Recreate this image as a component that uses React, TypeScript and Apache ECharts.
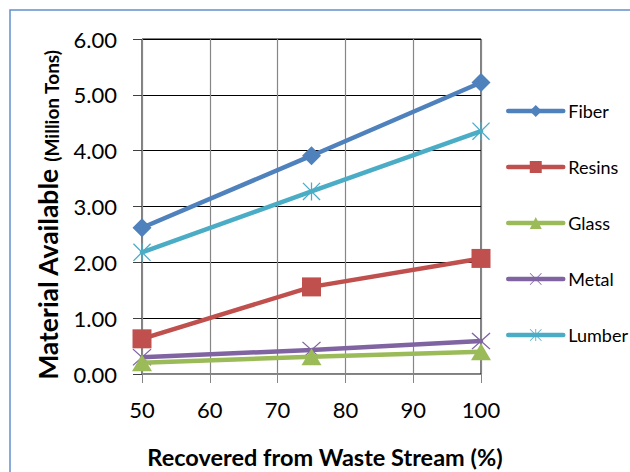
import React, { useEffect, useRef } from "react";
import * as echarts from "echarts";

const recovered = [50, 75, 100];
const seriesNames = ["Fiber", "Resins", "Glass", "Metal", "Lumber"];
const fiber = [2.62, 3.91, 5.22];
const resins = [0.63, 1.56, 2.07];
const glass = [0.2, 0.31, 0.4];
const metal = [0.3, 0.43, 0.59];
const lumber = [2.18, 3.27, 4.35];
const seriesValues = [fiber, resins, glass, metal, lumber];
const seriesColors = ["#4F81BD", "#C0504D", "#9BBB59", "#8064A2", "#4BACC6"];
const yTitleMain = "Material Available ";
const yTitleUnit = "(Million Tons)";
const xTitle = "Recovered from Waste Stream (%)";

const X_PATH = "path://M0,1 L1,0 L20,19 L19,20 Z M19,0 L20,1 L1,20 L0,19 Z";
const STAR_PATH =
  "path://M0,1 L1,0 L20,19 L19,20 Z M19,0 L20,1 L1,20 L0,19 Z M9.3,0 L10.7,0 L10.7,20 L9.3,20 Z";
const symbols = ["diamond", "rect", "triangle", X_PATH, STAR_PATH];
const symbolSizes: any[] = [[19, 19], [19, 19], [20, 17], [19, 17], [18, 18]];

const FONT = "Lato, 'Open Sans', sans-serif";

export default function App() {
  const ref = useRef<HTMLDivElement>(null);
  useEffect(() => {
    if (!ref.current) return;
    const chart = echarts.init(ref.current, undefined, { renderer: "svg" });
    const option: any = {
      animation: false,
      backgroundColor: "#ffffff",
      textStyle: { fontFamily: FONT },
      graphic: [
        {
          type: "rect",
          shape: { x: 10, y: 10, width: 700, height: 600 },
          style: { fill: "none", stroke: "#6190CD", lineWidth: 1.5 },
          z: 100,
        },
        {
          type: "text",
          x: 47,
          y: 215,
          rotation: Math.PI / 2,
          style: {
            text: "{a|" + yTitleMain + "}{b|" + yTitleUnit + "}",
            align: "center",
            verticalAlign: "middle",
            rich: {
              a: { fontFamily: FONT, fontSize: 26.5, fontWeight: "bold", fill: "#000", lineHeight: 28, verticalAlign: "bottom" },
              b: { fontFamily: FONT, fontSize: 19, fontWeight: "bold", fill: "#000", lineHeight: 28, verticalAlign: "bottom" },
            },
          },
          z: 50,
        },
      ],
      grid: {
        left: 142,
        right: 149,
        top: 39,
        bottom: 98,
        outerBoundsMode: "none",
        show: true,
        borderColor: "#000000",
        borderWidth: 1,
        backgroundColor: "#ffffff",
      },
      legend: {
        orient: "vertical",
        left: 501,
        top: 97,
        itemWidth: 55,
        itemHeight: 15,
        itemGap: 38,
        data: seriesNames,
        lineStyle: { width: 4.5, cap: "round" },
        textStyle: { fontFamily: FONT, fontSize: 18, lineHeight: 17, color: "#000" },
      },
      xAxis: {
        type: "value",
        min: 50,
        max: 100,
        interval: 10,
        name: xTitle,
        nameLocation: "middle",
        nameGap: 71,
        nameMoveOverlap: false,
        nameTextStyle: {
          fontFamily: FONT,
          fontSize: 23.5,
          fontWeight: "bold",
          color: "#000",
          padding: [0, 0, 0, 27],
        },
        axisLine: { show: true, lineStyle: { color: "#868686", width: 1 } },
        axisTick: { show: true, length: 9, lineStyle: { color: "#868686" } },
        axisLabel: { fontFamily: FONT, fontSize: 22, color: "#000", margin: 24 },
        splitLine: { show: true, lineStyle: { color: "#868686", width: 1.2 } },
      },
      yAxis: {
        type: "value",
        min: 0,
        max: 6,
        interval: 1,
        axisLine: { show: true, lineStyle: { color: "#868686", width: 1 } },
        axisTick: { show: true, length: 9, lineStyle: { color: "#404040" } },
        axisLabel: {
          fontFamily: FONT,
          fontSize: 22,
          color: "#000",
          margin: 25,
          formatter: (v: number) => v.toFixed(2),
        },
        splitLine: { show: true, lineStyle: { color: "#000000", width: 1 } },
      },
      series: seriesNames.map((name, i) => ({
        name,
        type: "line",
        data: recovered.map((x, j) => [x, seriesValues[i][j]]),
        symbol: symbols[i],
        symbolSize: symbolSizes[i],
        showAllSymbol: true,
        lineStyle: { color: seriesColors[i], width: 4.5, cap: "round" },
        itemStyle: { color: seriesColors[i] },
        z: 10 - i,
      })),
    };
    chart.setOption(option);
    return () => chart.dispose();
  }, []);
  return (
    <div
      ref={ref}
      style={{ position: "fixed", left: 0, top: 0, width: 630, height: 472 }}
    />
  );
}
